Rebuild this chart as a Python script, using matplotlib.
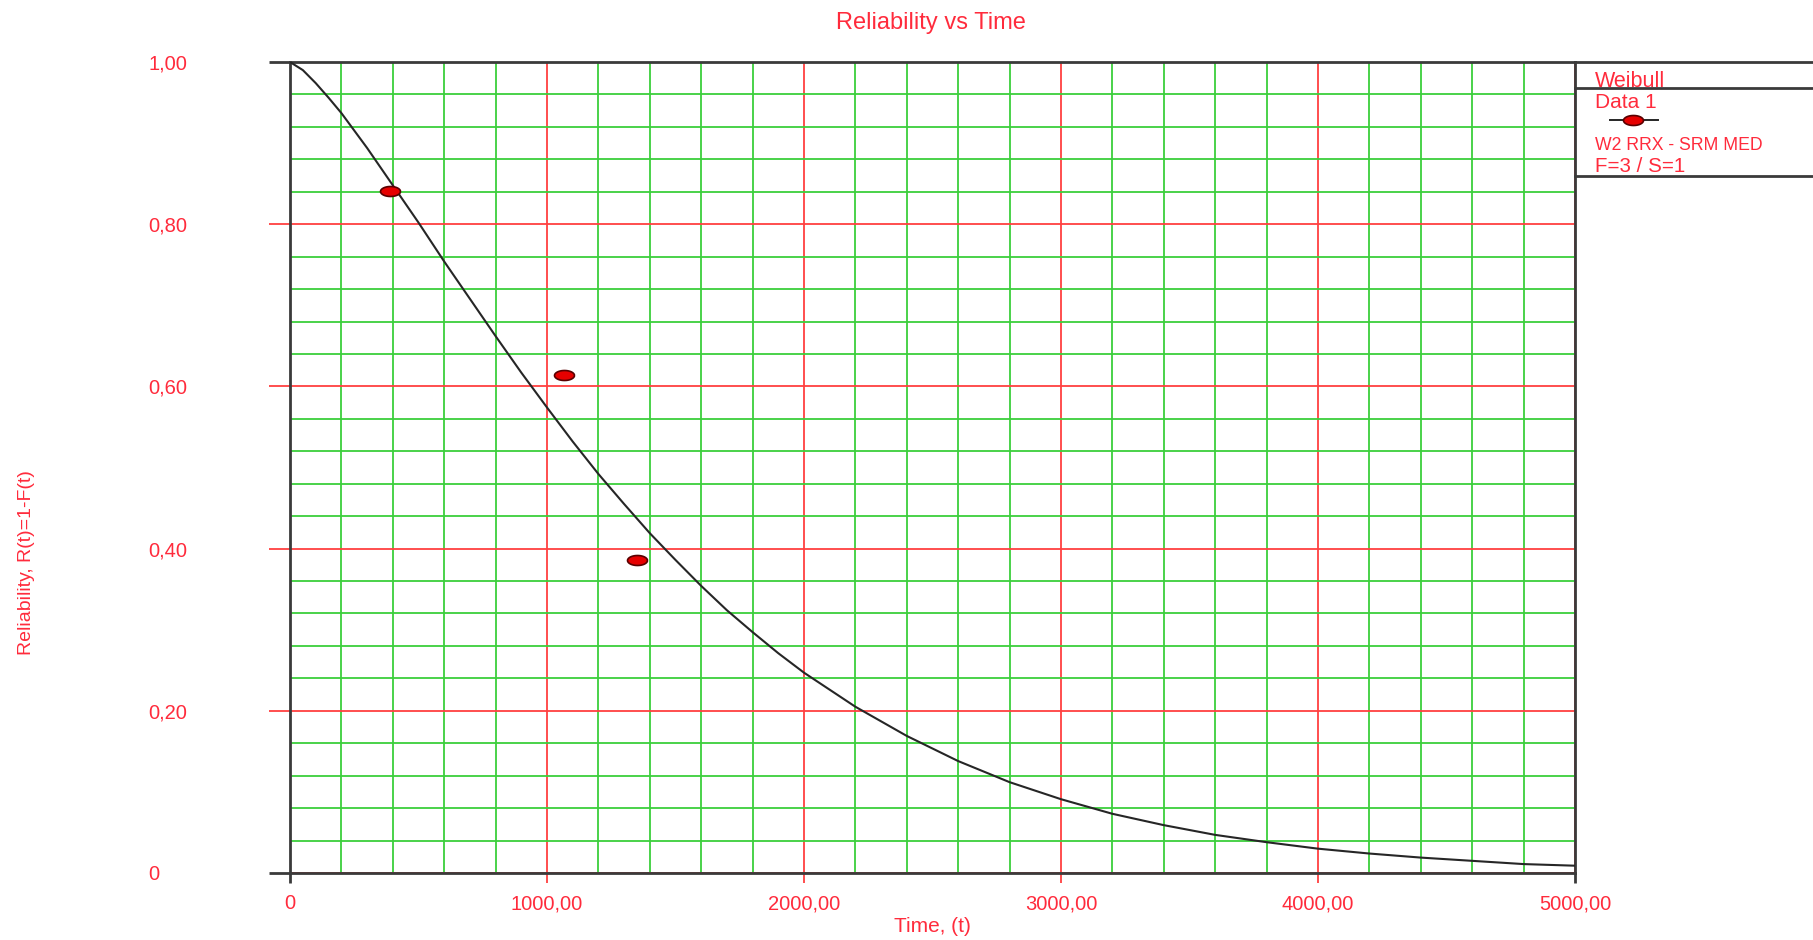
import numpy as np
import matplotlib.pyplot as plt
from matplotlib.lines import Line2D
from matplotlib.path import Path
from matplotlib.ticker import MultipleLocator

plt.rcParams['font.family'] = ['Liberation Sans', 'DejaVu Sans']

# Weibull fit line
curve_t = [0, 50, 100, 150, 200, 300, 400, 500, 600, 700, 800, 900, 1000, 1100, 1200,
           1300, 1400, 1500, 1600, 1700, 1800, 1900, 2000, 2200, 2400, 2600, 2800, 3000,
           3200, 3400, 3600, 3800, 4000, 4200, 4400, 4600, 4800, 5000]
curve_r = [1.0, 0.990, 0.974, 0.956, 0.937, 0.894, 0.848, 0.802, 0.754, 0.708, 0.662,
           0.617, 0.574, 0.532, 0.492, 0.455, 0.419, 0.386, 0.354, 0.324, 0.297, 0.271,
           0.247, 0.205, 0.169, 0.138, 0.112, 0.091, 0.073, 0.059, 0.047, 0.038, 0.030,
           0.024, 0.019, 0.015, 0.011, 0.009]

# Data 1 (failures, median ranks)
data_t = [390, 1065, 1350]
data_r = [0.841, 0.614, 0.386]

x_ticks = [0, 1000, 2000, 3000, 4000, 5000]
x_labels = ['0', '1000,00', '2000,00', '3000,00', '4000,00', '5000,00']
y_ticks = [0, 0.2, 0.4, 0.6, 0.8, 1.0]
y_labels = ['0', '0,20', '0,40', '0,60', '0,80', '1,00']

TXT = '#ff2b3c'
RED = '#ff4040'
GREEN = '#3ccf3c'
DARK = '#3a3a3a'

W, H = 1813, 940
fig = plt.figure(figsize=(W / 100, H / 100), dpi=100)
ax = fig.add_axes([290 / W, 1 - 873 / H, (1575 - 290) / W, (873 - 62) / H])

# ellipse marker
theta = np.linspace(0, 2 * np.pi, 41)
ell = Path(np.column_stack([np.cos(theta), 0.5 * np.sin(theta)]))

ax.plot(curve_t, curve_r, color='#262626', lw=1.5, zorder=3)
ax.plot(data_t, data_r, ls='none', marker=ell, ms=14.4, mfc='#e60000',
        mec='#5a0000', mew=1.2, zorder=4)

ax.set_xlim(0, 5000)
ax.set_ylim(0, 1)
ax.set_xticks(x_ticks, x_labels)
ax.set_yticks(y_ticks, y_labels, ha='left')
ax.xaxis.set_minor_locator(MultipleLocator(200))
ax.yaxis.set_minor_locator(MultipleLocator(0.04))

ax.set_axisbelow(True)
ax.grid(which='minor', color=GREEN, lw=1.3)
ax.grid(which='major', color=RED, lw=1.3)
ax.tick_params(which='minor', length=0)
ax.tick_params(axis='x', which='major', length=7.2, width=1.3, color=RED,
               labelcolor=TXT, labelsize=14.5, pad=8)
ax.tick_params(axis='y', which='major', length=15, width=1.3, color=RED,
               labelcolor=TXT, labelsize=14.5, pad=87)

for s in ax.spines.values():
    s.set_color(DARK)
    s.set_linewidth(2)

fig.text(931 / W, 1 - 23 / H, 'Reliability vs Time', ha='center', va='center',
         color=TXT, fontsize=17)
fig.text(932 / W, 1 - 926 / H, 'Time, (t)', ha='center', va='center',
         color=TXT, fontsize=15)
fig.text(27 / W, 1 - 563 / H, 'Reliability, R(t)=1-F(t)', ha='center', va='center',
         rotation=90, color=TXT, fontsize=14)

# legend panel on the right
for yy in (62, 88, 176):
    fig.add_artist(Line2D([1575 / W, 1], [1 - yy / H] * 2, transform=fig.transFigure,
                          color=DARK, lw=2))
fig.text(1595 / W, 1 - 87 / H, 'Weibull', ha='left', va='baseline', color=TXT,
         fontsize=15.5, zorder=1)
fig.text(1595 / W, 1 - 108 / H, 'Data 1', ha='left', va='baseline', color=TXT,
         fontsize=15)
fig.add_artist(Line2D([1610 / W, 1658 / W], [1 - 120 / H] * 2, transform=fig.transFigure,
                      color='#262626', lw=1.4))
fig.add_artist(Line2D([1633 / W], [1 - 120 / H], transform=fig.transFigure, ls='none',
                      marker=ell, ms=14.4, mfc='#e60000', mec='#5a0000', mew=1.2))
fig.text(1595 / W, 1 - 150 / H, 'W2 RRX - SRM MED', ha='left', va='baseline',
         color=TXT, fontsize=12.7)
fig.text(1595 / W, 1 - 172 / H, 'F=3 / S=1', ha='left', va='baseline', color=TXT,
         fontsize=14.8)

# end ticks are drawn in the frame colour (set after a draw so the tick objects are final)
fig.canvas.draw()
for t in (ax.xaxis.get_major_ticks()[0], ax.xaxis.get_major_ticks()[-1],
          ax.yaxis.get_major_ticks()[0], ax.yaxis.get_major_ticks()[-1]):
    t.tick1line.set_markeredgecolor(DARK)
    t.tick1line.set_markeredgewidth(2)

fig.savefig('out.png', dpi=100)
